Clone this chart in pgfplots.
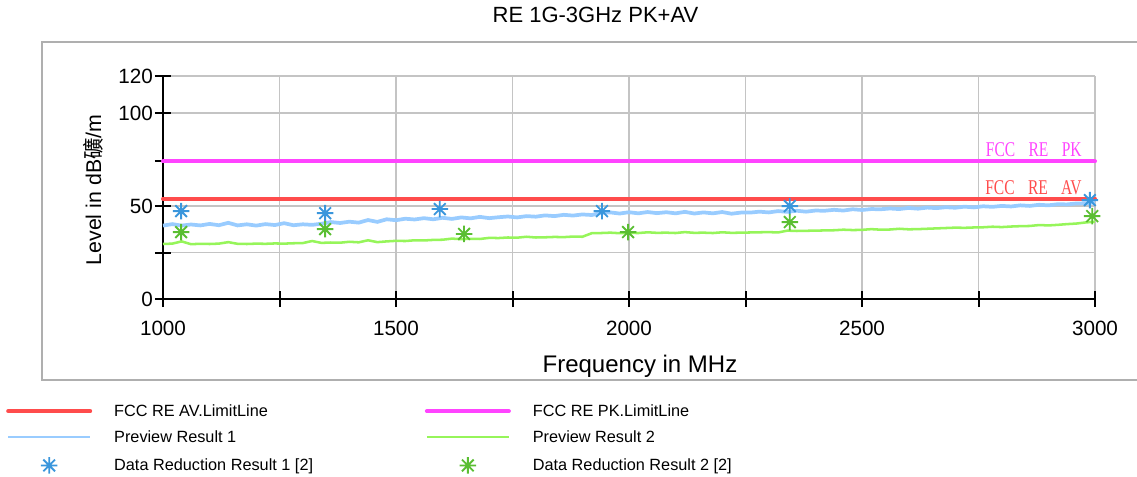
\documentclass[border=0pt]{standalone}
\usepackage{fontspec}
\setmainfont{Liberation Sans}
\newfontfamily\cjk{Noto Sans CJK SC}
\newfontfamily\annfont[FakeStretch=0.74]{Liberation Serif}
\usepackage{pgfplots}
\usepackage{pgfplotstable}
\pgfplotsset{compat=1.18}

\definecolor{limitred}{RGB}{255,76,76}
\definecolor{limitpink}{RGB}{255,68,255}
\definecolor{prevblue}{RGB}{153,204,255}
\definecolor{prevgreen}{RGB}{150,245,90}
\definecolor{starblue}{RGB}{58,150,220}
\definecolor{stargreen}{RGB}{90,190,50}
\definecolor{gridgray}{RGB}{196,196,196}
\definecolor{boxgray}{RGB}{175,175,175}

\pgfdeclareplotmark{star8}{%
  \pgfpathmoveto{\pgfpoint{0pt}{\pgfplotmarksize}}%
  \pgfpathlineto{\pgfpoint{0pt}{-\pgfplotmarksize}}%
  \pgfpathmoveto{\pgfpoint{\pgfplotmarksize}{0pt}}%
  \pgfpathlineto{\pgfpoint{-\pgfplotmarksize}{0pt}}%
  \pgfpathmoveto{\pgfpoint{0.7071\pgfplotmarksize}{0.7071\pgfplotmarksize}}%
  \pgfpathlineto{\pgfpoint{-0.7071\pgfplotmarksize}{-0.7071\pgfplotmarksize}}%
  \pgfpathmoveto{\pgfpoint{-0.7071\pgfplotmarksize}{0.7071\pgfplotmarksize}}%
  \pgfpathlineto{\pgfpoint{0.7071\pgfplotmarksize}{-0.7071\pgfplotmarksize}}%
  \pgfusepathqstroke}

\pgfplotsset{
  leglinethick/.style={legend image code/.code={\draw[##1] (0bp,4bp) -- (61.5bp,4bp);}},
  leglinethin/.style={legend image code/.code={\draw[##1, line width=1.5bp] (0bp,4bp) -- (61.5bp,4bp);}},
  legmark/.style={legend image code/.code={\draw[##1] plot coordinates {(30.75bp,4bp)};}},
}

\pgfplotstableread{
x y
1000 39.5
1020 40.3
1040 39.5
1060 40.1
1080 39.6
1100 40.4
1120 39.7
1140 41.0
1160 39.6
1180 40.2
1200 39.5
1220 40.3
1240 39.8
1260 40.8
1280 39.7
1300 40.2
1320 39.9
1340 40.5
1360 41.4
1380 40.9
1400 41.6
1420 41.1
1440 42.5
1460 41.5
1480 42.9
1500 42.4
1520 43.2
1540 42.8
1560 43.5
1580 42.9
1600 43.7
1620 43.1
1640 43.9
1660 43.4
1680 44.2
1700 43.5
1720 44.0
1740 44.4
1760 43.9
1780 44.6
1800 44.3
1820 45.0
1840 44.6
1860 45.3
1880 44.9
1900 45.5
1920 45.2
1940 46.3
1960 46.6
1980 46.0
2000 46.7
2020 46.1
2040 46.8
2060 46.2
2080 46.7
2100 46.1
2120 46.9
2140 46.0
2160 46.6
2180 46.1
2200 46.8
2220 45.9
2240 46.5
2260 46.5
2280 47.0
2300 46.6
2320 47.3
2340 46.9
2360 47.5
2380 47.0
2400 47.6
2420 47.5
2440 48.0
2460 47.6
2480 48.3
2500 47.9
2520 48.4
2540 48.3
2560 48.7
2580 48.4
2600 49.0
2620 48.6
2640 49.2
2660 48.9
2680 49.4
2700 49.1
2720 49.7
2740 49.3
2760 49.9
2780 49.6
2800 50.1
2820 49.8
2840 50.4
2860 50.1
2880 50.7
2900 50.4
2920 51.0
2940 50.9
2960 51.4
2980 51.5
3000 52.0
}\previewone

\pgfplotstableread{
x y
1000 29.6
1020 29.8
1040 31.0
1060 29.5
1080 29.7
1100 29.6
1120 29.8
1140 30.6
1160 29.7
1180 29.6
1200 29.8
1220 29.7
1240 29.9
1260 29.8
1280 30.0
1300 30.1
1320 31.2
1340 30.2
1360 30.4
1380 30.3
1400 30.8
1420 30.5
1440 31.6
1460 30.6
1480 31.0
1500 31.3
1520 31.2
1540 31.6
1560 31.5
1580 31.8
1600 31.9
1620 32.5
1640 32.2
1660 32.4
1680 32.3
1700 32.9
1720 32.8
1740 33.1
1760 33.0
1780 33.5
1800 33.1
1820 33.2
1840 33.4
1860 33.3
1880 33.6
1900 33.5
1920 35.4
1940 35.5
1960 35.7
1980 35.4
2000 35.6
2020 35.5
2040 35.9
2060 35.6
2080 35.7
2100 35.5
2120 36.0
2140 35.6
2160 35.7
2180 35.5
2200 35.9
2220 35.6
2240 35.7
2260 35.8
2280 35.9
2300 36.0
2320 35.8
2340 36.8
2360 36.6
2380 36.7
2400 36.8
2420 36.9
2440 37.0
2460 37.3
2480 37.1
2500 37.2
2520 37.6
2540 37.3
2560 37.4
2580 37.8
2600 37.5
2620 37.6
2640 37.8
2660 38.0
2680 38.2
2700 38.4
2720 38.3
2740 38.5
2760 38.6
2780 38.9
2800 38.7
2820 39.0
2840 39.2
2860 39.3
2880 39.8
2900 39.6
2920 39.9
2940 40.3
2960 40.6
2980 41.2
3000 41.6
}\previewtwo

\pgfplotstableread{
x y
1039 47.3
1348 46.2
1594 48.4
1942 47.3
2345 50.0
2989 53.2
}\reductionone

\pgfplotstableread{
x y
1039 36.0
1348 37.6
1646 35.0
1998 36.0
2345 41.4
2994 44.6
}\reductiontwo

\newcommand{\legtext}[1]{\makebox[233bp][l]{#1}}

\begin{document}
\begin{tikzpicture}
\path[use as bounding box] (0,0) rectangle (852.75bp,-357.75bp);
\draw[boxgray, line width=1.2bp] (31.5bp,-31.5bp) rectangle (870bp,-285bp);
\node[font=\fontsize{16.5bp}{19bp}\selectfont, anchor=center] at (446.6bp,-11.25bp) {RE 1G-3GHz PK+AV};
\begin{axis}[
  at={(122.25bp,-224.25bp)}, anchor=south west,
  scale only axis, width=699bp, height=167.25bp,
  xmin=1000, xmax=3000, ymin=0, ymax=120,
  axis lines=left,
  axis line style={black, line width=1.5bp, -},
  xtick={1000,1250,1500,1750,2000,2250,2500,2750,3000},
  xticklabels={1000,,1500,,2000,,2500,,3000},
  ytick={0,25,50,74,100,120},
  yticklabels={0,,50,,100,120},
  tick align=center,
  major tick length=12bp,
  tick style={black, line width=1.5bp},
  grid=major,
  grid style={gridgray, line width=1.2bp},
  /pgf/number format/assume math mode=true,
  tick label style={font=\fontsize{15.5bp}{18bp}\selectfont},
  xticklabel style={yshift=-7bp},
  yticklabel style={xshift=2bp},
  xlabel={Frequency in MHz},
  xlabel style={font=\fontsize{18bp}{21bp}\selectfont, at={(axis description cs:0.5118,-0.3004)}, anchor=center},
  ylabel={Level in dB{\cjk 礦}/m},
  ylabel style={font=\fontsize{16bp}{19bp}\selectfont, at={(axis description cs:-0.0751,0.489)}, anchor=center},
  clip=false,
  legend columns=2,
  legend style={
    draw=none, fill=none,
    at={(axis description cs:-0.1728,-0.4630)}, anchor=north west,
    font=\fontsize{12.2bp}{14bp}\selectfont,
    nodes={inner sep=0pt, text height=8.5bp, text depth=2.5bp, anchor=base west},
    row sep=8.5bp,
    /tikz/every odd column/.append style={column sep=16.5bp},
    /tikz/every even column/.append style={column sep=0bp},
  },
]
\addplot[limitred, line width=3bp, line cap=round, leglinethick]
  coordinates {(1000,54) (3000,54)};
\addlegendentry{\legtext{FCC RE AV.LimitLine}}
\addplot[limitpink, line width=3bp, line cap=round, leglinethick]
  coordinates {(1000,74) (3000,74)};
\addlegendentry{\legtext{FCC RE PK.LimitLine}}
\addplot[prevblue, line width=2.8bp, leglinethin]
  table[x=x,y=y] {\previewone};
\addlegendentry{\legtext{Preview Result 1}}
\addplot[prevgreen, line width=1.9bp, leglinethin]
  table[x=x,y=y] {\previewtwo};
\addlegendentry{\legtext{Preview Result 2}}
\addplot[only marks, mark=star8, mark size=6.2bp, starblue, mark options={line width=1.4bp}, legmark]
  table[x=x,y=y] {\reductionone};
\addlegendentry{\legtext{Data Reduction Result 1 [2]}}
\addplot[only marks, mark=star8, mark size=6.2bp, stargreen, mark options={line width=1.4bp}, legmark]
  table[x=x,y=y] {\reductiontwo};
\addlegendentry{\legtext{Data Reduction Result 2 [2]}}
\node[anchor=base east, text=limitpink, font=\annfont\fontsize{15.75bp}{18bp}\selectfont, inner sep=0pt] at (axis cs:2972,74) [yshift=3.5bp] {FCC\hspace{10bp}RE\hspace{10bp}PK};
\node[anchor=base east, text=limitred, font=\annfont\fontsize{15.75bp}{18bp}\selectfont, inner sep=0pt] at (axis cs:2972,54) [yshift=3.25bp] {FCC\hspace{10bp}RE\hspace{10bp}AV};
\end{axis}
\end{tikzpicture}
\end{document}
